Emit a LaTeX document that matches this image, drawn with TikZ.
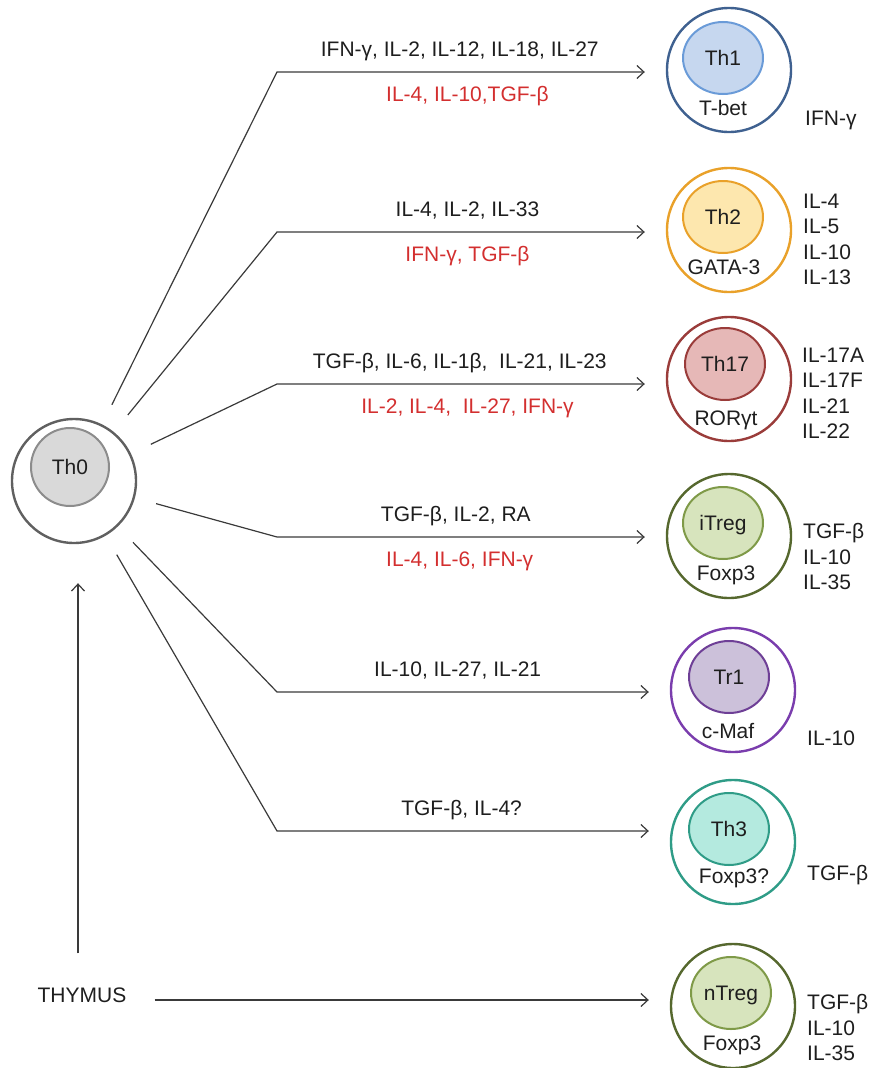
\documentclass[tikz,border=0pt]{standalone}
\usepackage{fontspec}
\setmainfont{Liberation Sans}
\usetikzlibrary{shapes,arrows.meta,positioning,calc}

\definecolor{txtred}{HTML}{D32F2F}
\definecolor{txtblack}{HTML}{1E1E1E}
\definecolor{lineblack}{HTML}{3A3A3A}
\definecolor{thzeroline}{HTML}{606060}
\definecolor{thzerocore}{HTML}{8C8C8C}
\definecolor{thzerofill}{HTML}{D9D9D9}
\definecolor{thoneline}{HTML}{3F6190}
\definecolor{thonecore}{HTML}{6A9BD8}
\definecolor{thonefill}{HTML}{C6D7EF}
\definecolor{thtwoline}{HTML}{E9A12A}
\definecolor{thtwofill}{HTML}{FDE7AE}
\definecolor{thsevline}{HTML}{9A3C3A}
\definecolor{thsevfill}{HTML}{E6B8B7}
\definecolor{tregline}{HTML}{56682E}
\definecolor{tregcore}{HTML}{7F9A48}
\definecolor{tregfill}{HTML}{D7E4BD}
\definecolor{troneline}{HTML}{7A3DAD}
\definecolor{tronecore}{HTML}{6E3F96}
\definecolor{tronefill}{HTML}{CCC1DA}
\definecolor{ththreeline}{HTML}{2F9C87}
\definecolor{ththreefill}{HTML}{B4EADF}

\begin{document}
\begin{tikzpicture}[x=1pt,y=-1pt,
    font=\fontsize{21}{25}\selectfont, text=txtblack,
    link/.style={line width=1.2pt, draw=lineblack},
    flow/.style={link, -{Straight Barb[length=7pt,width=13pt]}},
    outercell/.style={circle, draw, line width=2.4pt, minimum size=124pt, inner sep=0pt},
    innercell/.style={ellipse, draw, line width=2pt, minimum width=80pt, minimum height=72pt,
        inner sep=0pt, text height=15pt, text depth=0pt},
    lbl/.style={inner sep=0pt, text height=15pt, text depth=0pt},
    outlist/.style={anchor=north west, align=left, inner sep=0pt, font=\fontsize{21}{25.5}\selectfont}]
    \useasboundingbox (0,0) rectangle (872,1068);
    %Naive cell and thymus%
    %===========================================================
    \node[outercell, draw=thzeroline] (th0) at (74,481) {};
    \node[innercell, minimum width=78pt, minimum height=78pt, draw=thzerocore, fill=thzerofill] (th0_core) at (70,467) {Th0};
    \node[lbl] (thymus) at (82,995) {THYMUS};

    %Effector and regulatory cells%
    %===========================================================
    \node[outercell, draw=thoneline] (th1) at (729,70) {};
    \node[innercell, draw=thonecore, fill=thonefill] (th1_core) at (723,58) {Th1};
    \node[lbl] (th1_tf) at (723,108) {T-bet};
    \node[lbl, anchor=west] (th1_out) at (805,118) {IFN-γ};

    \node[outercell, draw=thtwoline] (th2) at (729,230) {};
    \node[innercell, draw=thtwoline, fill=thtwofill] (th2_core) at (723,217) {Th2};
    \node[lbl] (th2_tf) at (724,267) {GATA-3};
    \node[outlist] (th2_out) at (803,193.5) {IL-4\\IL-5\\IL-10\\IL-13};

    \node[outercell, draw=thsevline] (th17) at (729,379) {};
    \node[innercell, draw=thsevline, fill=thsevfill] (th17_core) at (725,364) {Th17};
    \node[lbl] (th17_tf) at (726,418) {RORγt};
    \node[outlist] (th17_out) at (802,347.5) {IL-17A\\IL-17F\\IL-21\\IL-22};

    \node[outercell, draw=tregline] (itreg) at (729,536) {};
    \node[innercell, draw=tregcore, fill=tregfill] (itreg_core) at (723,523) {iTreg};
    \node[lbl] (itreg_tf) at (726,573) {Foxp3};
    \node[outlist] (itreg_out) at (803,523.5) {TGF-β\\IL-10\\IL-35};

    \node[outercell, draw=troneline] (tr1) at (733,690) {};
    \node[innercell, draw=tronecore, fill=tronefill] (tr1_core) at (729,677) {Tr1};
    \node[lbl] (tr1_tf) at (728,731) {c-Maf};
    \node[lbl, anchor=west] (tr1_out) at (807,738) {IL-10};

    \node[outercell, draw=ththreeline] (th3) at (733,842) {};
    \node[innercell, draw=ththreeline, fill=ththreefill] (th3_core) at (729,829) {Th3};
    \node[lbl] (th3_tf) at (734,876) {Foxp3?};
    \node[lbl, anchor=west] (th3_out) at (807,873) {TGF-β};

    \node[outercell, draw=tregline] (ntreg) at (733,1006) {};
    \node[innercell, draw=tregcore, fill=tregfill] (ntreg_core) at (731,993) {nTreg};
    \node[lbl] (ntreg_tf) at (732,1043) {Foxp3};
    \node[outlist] (ntreg_out) at (807,994.5) {TGF-β\\IL-10\\IL-35};

    %Polarising signals (black: induce, red: inhibit)%
    %===========================================================
    \coordinate (knee_1) at (277,72);
    \coordinate (knee_2) at (277,232);
    \coordinate (knee_3) at (277,384);
    \coordinate (knee_4) at (277,537);
    \coordinate (knee_5) at (277,692);
    \coordinate (knee_6) at (277,831);

    \draw[flow, shorten <=22pt, shorten >=21pt] (th0) -- (knee_1) -- (knee_1 -| th1.west)
        node[lbl, pos=0.47, above=15pt] (plus_1) {IFN-γ, IL-2, IL-12, IL-18, IL-27}
        node[lbl, pos=0.49, below=14pt, text=txtred] (minus_1) {IL-4, IL-10,TGF-β};
    \draw[flow, shorten <=22pt, shorten >=21pt] (th0) -- (knee_2) -- (knee_2 -| th2.west)
        node[lbl, pos=0.49, above=15pt] (plus_2) {IL-4, IL-2, IL-33}
        node[lbl, pos=0.49, below=14pt, text=txtred] (minus_2) {IFN-γ, TGF-β};
    \draw[flow, shorten <=22pt, shorten >=21pt] (th0) -- (knee_3) -- (knee_3 -| th17.west)
        node[lbl, pos=0.47, above=15pt] (plus_3) {TGF-β, IL-6, IL-1β,~ IL-21, IL-23}
        node[lbl, pos=0.49, below=14pt, text=txtred] (minus_3) {IL-2, IL-4,~ IL-27, IFN-γ};
    \draw[flow, shorten <=22pt, shorten >=21pt] (th0) -- (knee_4) -- (knee_4 -| itreg.west)
        node[lbl, pos=0.46, above=15pt] (plus_4) {TGF-β, IL-2, RA}
        node[lbl, pos=0.47, below=14pt, text=txtred] (minus_4) {IL-4, IL-6, IFN-γ};
    \draw[flow, shorten <=22pt, shorten >=21pt] (th0) -- (knee_5) -- (knee_5 -| tr1.west)
        node[lbl, pos=0.46, above=15pt] (plus_5) {IL-10, IL-27, IL-21};
    \draw[flow, shorten <=22pt, shorten >=21pt] (th0) -- (knee_6) -- (knee_6 -| th3.west)
        node[lbl, pos=0.47, above=15pt] (plus_6) {TGF-β, IL-4?};

    %Thymic output%
    \draw[flow, shorten <=34pt, shorten >=39pt] ([xshift=-4pt]thymus.north) -- ([xshift=4pt]th0.south);
    \draw[flow, shorten <=28pt, shorten >=21pt] ([yshift=-5pt]thymus.east) -- ([yshift=-5pt]thymus.east -| ntreg.west);
\end{tikzpicture}
\end{document}
